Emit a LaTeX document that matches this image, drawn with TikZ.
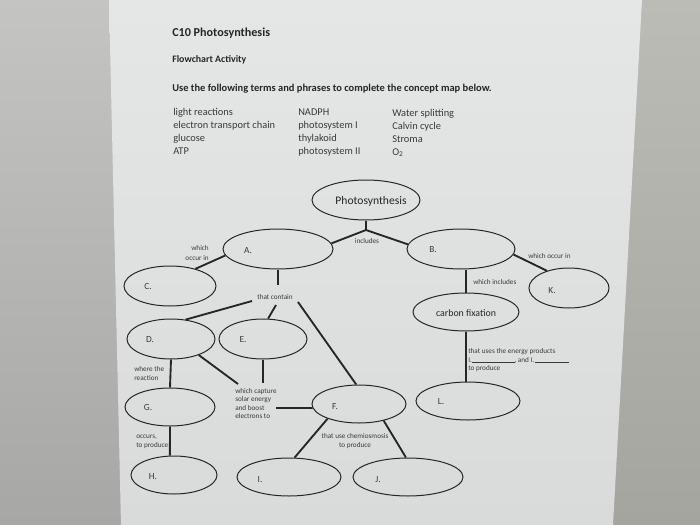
\documentclass[tikz,border=0pt]{standalone}
\usepackage{fontspec}
\setmainfont{Carlito}
\usetikzlibrary{shapes.geometric}
\definecolor{paperT}{HTML}{E5E7E6}
\definecolor{paperB}{HTML}{D9DBDA}
\definecolor{bgLT}{HTML}{C4C5C3}
\definecolor{bgLB}{HTML}{A7A7A6}
\definecolor{bgRT}{HTML}{BBBCB6}
\definecolor{bgRB}{HTML}{A5A5A0}
\definecolor{ink}{HTML}{262626}
\definecolor{inkl}{HTML}{3A3A3A}
\tikzset{
  oval/.style={ellipse, draw=ink, line width=0.75pt, inner sep=0pt},
  conn/.style={draw=ink, line width=1.4pt},
  lab/.style={font=\fontsize{7}{8}\selectfont, text=inkl, inner sep=0pt},
  small/.style={font=\fontsize{5.4}{6.6}\selectfont, text=inkl, inner sep=0pt},
  listtxt/.style={font=\fontsize{7.8}{9.6}\selectfont, text=inkl, anchor=base west, align=left, inner sep=0pt},
}
\begin{document}
\begin{tikzpicture}[x=0.75pt,y=-0.75pt]
\useasboundingbox (0,0) rectangle (700,525);
% background
\shade[top color=bgLT, bottom color=bgLB] (0,0) rectangle (125,525);
\shade[top color=bgRT, bottom color=bgRB] (600,0) rectangle (700,525);
\shade[top color=paperT, bottom color=paperB] (109,0) -- (642,0) -- (613,525) -- (121,525) -- cycle;

% header texts
\node[anchor=base west, inner sep=0pt, text=ink, font=\bfseries\fontsize{9.1}{11}\selectfont] (title) at (172,36) {C10 Photosynthesis};
\node[anchor=base west, inner sep=0pt, text=ink, font=\bfseries\fontsize{7.4}{9}\selectfont] (sub) at (172,62) {Flowchart Activity};
\node[anchor=base west, inner sep=0pt, text=ink, font=\bfseries\fontsize{7.85}{9}\selectfont] (instr) at (172,91) {Use the following terms and phrases to complete the concept map below.};

\node[listtxt] (col1) at (173,154) {light reactions\\electron transport chain\\glucose\\ATP};
\node[listtxt] (col2) at (298,154) {NADPH\\photosystem I\\thylakoid\\photosystem II};
\node[listtxt] (col3) at (392,155) {Water splitting\\Calvin cycle\\Stroma\\O\textsubscript{2}};

% ellipses
\node[oval, minimum width=81pt,   minimum height=30pt]   (P)  at (366,200) {};
\node[oval, minimum width=82.5pt, minimum height=30pt]   (A)  at (278,249) {};
\node[oval, minimum width=81pt,   minimum height=30pt]   (B)  at (461,249) {};
\node[oval, minimum width=69pt,   minimum height=30pt]   (C)  at (170,286) {};
\node[oval, minimum width=66pt,   minimum height=30pt]   (D)  at (171,339) {};
\node[oval, minimum width=66pt,   minimum height=30pt]   (E)  at (263,339) {};
\node[oval, minimum width=67.5pt, minimum height=28.5pt] (G)  at (170,407) {};
\node[oval, minimum width=64.5pt, minimum height=28.5pt] (H)  at (174,475) {};
\node[oval, minimum width=70.5pt, minimum height=28.5pt] (F)  at (359,404) {};
\node[oval, minimum width=78pt,   minimum height=28.5pt] (I)  at (289,477) {};
\node[oval, minimum width=82.5pt, minimum height=28.5pt] (J)  at (408,477) {};
\node[oval, minimum width=60pt,   minimum height=30pt]   (K)  at (569,288) {};
\node[oval, minimum width=79.5pt, minimum height=28.5pt] (CF) at (466,312) {};
\node[oval, minimum width=78pt,   minimum height=28.5pt] (L)  at (468,401) {};

% texts inside ellipses
\node[inner sep=0pt, text=ink, font=\fontsize{8.7}{10}\selectfont] (Ptxt) at (371,201) {Photosynthesis};
\node[inner sep=0pt, text=ink, font=\fontsize{7.4}{9}\selectfont] (CFtxt) at (466,313) {carbon fixation};
\node[lab] (Al) at (248,251) {A.};
\node[lab] (Bl) at (433,250) {B.};
\node[lab] (Cl) at (148,287) {C.};
\node[lab] (Dl) at (150,340) {D.};
\node[lab] (El) at (243,340) {E.};
\node[lab] (Fl) at (335,407) {F.};
\node[lab] (Gl) at (148,408) {G.};
\node[lab] (Hl) at (153,477) {H.};
\node[lab] (Il) at (260,480) {I.};
\node[lab] (Jl) at (378,480) {J.};
\node[lab] (Kl) at (552,291) {K.};
\node[lab] (Ll) at (441,402) {L.};

% connector labels
\node[small] (tIncl) at (367,241) {includes};
\node[small, align=right, anchor=east, font=\fontsize{5.4}{7.5}\selectfont] (tOccA) at (209,253) {which\\occur in};
\node[small] (tCont) at (275,297) {that contain};
\node[small, anchor=west] (tOccB) at (528,256) {which occur in};
\node[small, anchor=west] (tIncB) at (473,282) {which includes};
\node[small, anchor=north west, align=left] (tUses) at (468,348) {that uses the energy products\\I.\rule{32pt}{0.4pt}, and I.\,\rule{25pt}{0.4pt}\\to produce};
\node[small, anchor=west, align=left] (tWhere) at (134,373.5) {where the\\reaction};
\node[small, anchor=north west, align=left, font=\fontsize{5.4}{6.3}\selectfont] (tCapt) at (235,388) {which capture\\solar energy\\and boost\\electrons to};
\node[small, anchor=west, align=left] (tOccG) at (136,442) {occurs,\\to produce};
\node[small, align=center] (tChem) at (355,441) {that use chemiosmosis\\to produce};

% coordinates for free ends
\coordinate (jP) at (366,230);
\coordinate (tcTop) at (278,285);
\coordinate (tcD) at (252,301);
\coordinate (tcE) at (276,305);
\coordinate (tcF) at (298,302);
\coordinate (capD) at (238,384);
\coordinate (capE) at (263,383);
\coordinate (capF) at (276,408);

% connectors
\draw[conn] (P.south) -- (jP);
\draw[conn] (jP) -- (A.6);
\draw[conn] (jP) -- (B.175);
\draw[conn] (A.187) -- (C.34);
\draw[conn] (A.south) -- (tcTop);
\draw[conn] (tcD) -- (D.53);
\draw[conn] (tcE) -- (E.76);
\draw[conn] (tcF) -- (F.98);
\draw[conn] (D.south) -- (G.north);
\draw[conn] (D.330) -- (capD);
\draw[conn] (E.south) -- (capE);
\draw[conn] (capF) -- (F.185);
\draw[conn] (G.south) -- (H.102);
\draw[conn] (F.205) -- (I.74);
\draw[conn] (F.326) -- (J.96);
\draw[conn] (B.354) -- (K.142);
\draw[conn] (CF.north |- B.south) -- (CF.north);
\draw[conn] (CF.south) -- (CF.south |- L.north);
\end{tikzpicture}
\end{document}
